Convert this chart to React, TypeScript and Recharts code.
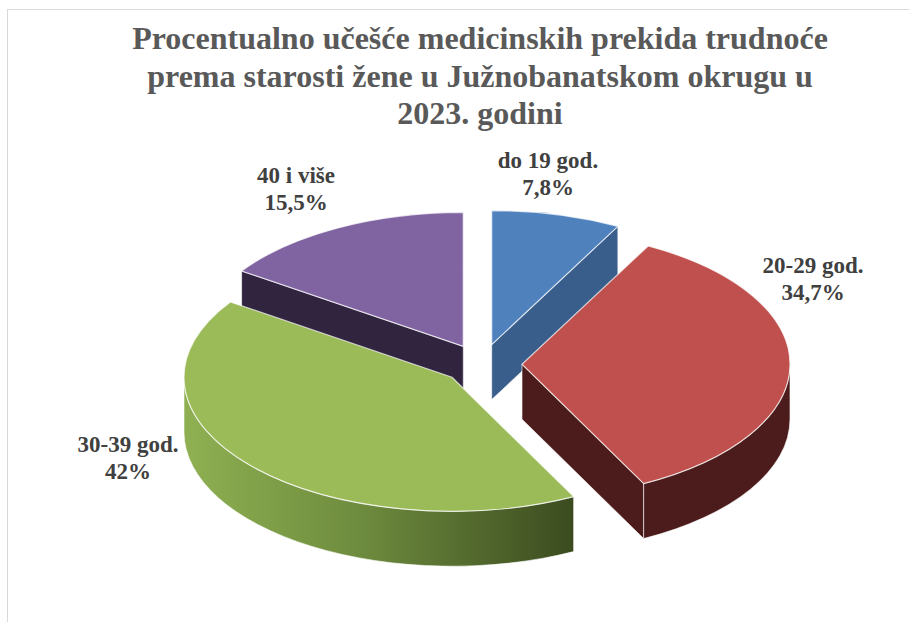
import { PieChart, Pie } from 'recharts'

const CATEGORIES = ['do 19 god.', '20-29 god.', '30-39 god.', '40 i više']
const SHARES = [7.8, 34.7, 42, 15.5]
const SHARE_LABELS = ['7,8%', '34,7%', '42%', '15,5%']
const TITLE_LINES = [
  'Procentualno učešće medicinskih prekida trudnoće',
  'prema starosti žene u Južnobanatskom okrugu u',
  '2023. godini',
]

const TOP_COLORS = ['#4f81bd', '#c0504d', '#9bbb59', '#8064a2']
const WALL_COLORS = ['#3a5e8c', '#4b1c1b', 'url(#greenWall)', '#30243f']
// label anchors (center x, first baseline)
const LABEL_POS: [number, number][] = [[548, 168], [813, 273], [128, 452], [296, 183]]

const W = 909
const H = 622
const CX = 477
const CY = 359
const R = 268
const K = 0.5 // vertical squash of the tilted pie
const DEPTH = 55
const EXPLODE = 40
const FONT = '"Liberation Serif", "Times New Roman", serif'

const rad = (d: number) => (d * Math.PI) / 180

function pt(cx: number, cy: number, r: number, deg: number) {
  return [cx + r * Math.cos(rad(deg)), cy - r * Math.sin(rad(deg)) * K]
}

// move a slice outwards along its middle angle
function shift(p: any) {
  const m = rad(p.midAngle)
  return [p.cx + EXPLODE * Math.cos(m), p.cy - EXPLODE * Math.sin(m) * K]
}

function arc(r: number, x: number, y: number, large: number, sweep: number) {
  return `A${r},${r * K} 0 ${large} ${sweep} ${x},${y}`
}

const data = CATEGORIES.map((name, i) => ({ name, value: SHARES[i] }))

function WallShape(p: any) {
  const i = CATEGORIES.indexOf(p.name ?? p.payload?.name)
  const [cx, cy] = shift(p)
  const r = p.outerRadius
  const s = p.startAngle
  const e = p.endAngle
  const col = WALL_COLORS[i]
  const parts: any[] = []

  // radial cut walls, only when facing the viewer
  const radial = (a: number, key: string) => {
    const [x, y] = pt(cx, cy, r, a)
    parts.push(
      <path
        key={key}
        d={`M${cx},${cy} L${x},${y} L${x},${y + DEPTH} L${cx},${cy + DEPTH} Z`}
        fill={col === 'url(#greenWall)' ? '#5d7a33' : col}
        stroke="#fff"
        strokeOpacity={0.6}
        strokeWidth={1}
      />
    )
  }
  if (Math.cos(rad(s)) < -0.01) radial(s, 's')
  if (Math.cos(rad(e)) > 0.01) radial(e, 'e')

  // outer curved wall, front half only
  const a1 = Math.min(s, 0)
  const a2 = Math.max(e, -180)
  if (a1 > a2) {
    const [x1, y1] = pt(cx, cy, r, a1)
    const [x2, y2] = pt(cx, cy, r, a2)
    const large = a1 - a2 > 180 ? 1 : 0
    parts.push(
      <path
        key="o"
        d={`M${x1},${y1} ${arc(r, x2, y2, large, 1)} L${x2},${y2 + DEPTH} ${arc(r, x1, y1 + DEPTH, large, 0)} Z`}
        fill={col}
        stroke="#fff"
        strokeOpacity={0.6}
        strokeWidth={1}
      />
    )
  }

  return (
    <g>
      <defs>
        <linearGradient id="greenWall" x1="0" y1="0" x2="1" y2="0">
          <stop offset="0%" stopColor="#8fb052" />
          <stop offset="45%" stopColor="#6e8c3e" />
          <stop offset="100%" stopColor="#3b4b1f" />
        </linearGradient>
      </defs>
      {parts}
    </g>
  )
}

function TopShape(p: any) {
  const i = CATEGORIES.indexOf(p.name ?? p.payload?.name)
  const [cx, cy] = shift(p)
  const r = p.outerRadius
  const [x1, y1] = pt(cx, cy, r, p.startAngle)
  const [x2, y2] = pt(cx, cy, r, p.endAngle)
  const large = p.startAngle - p.endAngle > 180 ? 1 : 0
  return (
    <path
      d={`M${cx},${cy} L${x1},${y1} ${arc(r, x2, y2, large, 1)} Z`}
      fill={TOP_COLORS[i]}
      stroke="#fff"
      strokeOpacity={0.7}
      strokeWidth={1.2}
    />
  )
}

function renderLabel(p: any) {
  const [x, y] = LABEL_POS[p.index]
  return (
    <text
      x={x}
      y={y}
      textAnchor="middle"
      fontFamily={FONT}
      fontWeight="bold"
      fontSize={23}
      fill="#404040"
    >
      <tspan x={x} y={y}>{CATEGORIES[p.index]}</tspan>
      <tspan x={x} y={y + 27}>{SHARE_LABELS[p.index]}</tspan>
    </text>
  )
}

export default function App() {
  return (
    <div style={{ position: 'fixed', left: 0, top: 0, width: W, height: H, background: '#fff', overflow: 'hidden' }}>
      <div
        style={{
          position: 'absolute',
          left: 7,
          top: 9,
          width: 1200,
          height: 1200,
          border: '1px solid #d9d9d9',
        }}
      />
      <div style={{ position: 'absolute', left: 0, top: 0 }}>
        <PieChart width={W} height={H}>
          <Pie
            data={data}
            dataKey="value"
            cx={CX}
            cy={CY}
            outerRadius={R}
            startAngle={90}
            endAngle={-270}
            stroke="none"
            isAnimationActive={false}
            shape={WallShape}
            activeShape={WallShape}
          />
          <Pie
            data={data}
            dataKey="value"
            cx={CX}
            cy={CY}
            outerRadius={R}
            startAngle={90}
            endAngle={-270}
            stroke="none"
            isAnimationActive={false}
            shape={TopShape}
            activeShape={TopShape}
            label={renderLabel}
            labelLine={false}
          />
        </PieChart>
      </div>
      <svg width={W} height={H} style={{ position: 'absolute', left: 0, top: 0, pointerEvents: 'none' }}>
        {TITLE_LINES.map((t, i) => (
          <text
            key={i}
            x={480}
            y={49 + i * 37.5}
            textAnchor="middle"
            fontFamily={FONT}
            fontWeight="bold"
            fontSize={32}
            fill="#595959"
          >
            {t}
          </text>
        ))}
      </svg>
    </div>
  )
}
